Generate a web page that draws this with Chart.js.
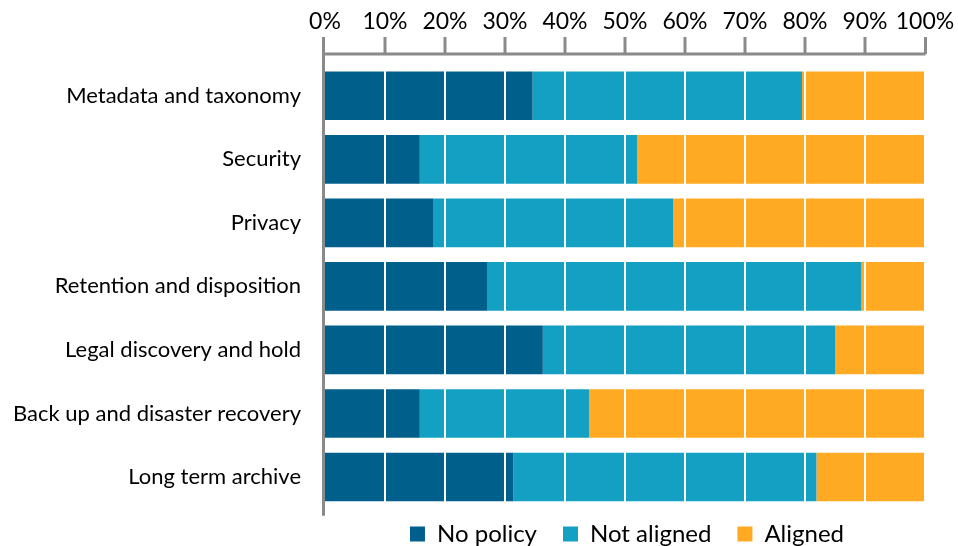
<!DOCTYPE html>
<html>
<head>
<meta charset="utf-8">
<title>Policy alignment</title>
<script src="https://cdn.jsdelivr.net/npm/chart.js@4.4.1/dist/chart.umd.min.js"></script>
<style>
  html, body { margin: 0; padding: 0; background: #fff; }
  #wrap { width: 958px; height: 546px; position: relative; }
</style>
</head>
<body>
<div id="wrap"><canvas id="policy-chart"></canvas></div>
<script>
document.addEventListener('DOMContentLoaded', () => {

///////////////////////Data//////////////////////////
const categories = [
  'Metadata and taxonomy',
  'Security',
  'Privacy',
  'Retention and disposition',
  'Legal discovery and hold',
  'Back up and disaster recovery',
  'Long term archive'
];
const noPolicy   = [34.6, 15.8, 18.0, 27.0, 36.3, 15.8, 31.4];
const notAligned = [44.9, 36.2, 40.0, 62.4, 48.7, 28.2, 50.5];
const aligned    = [20.5, 48.0, 42.0, 10.6, 15.0, 56.0, 18.1];
const xTicks = [0, 10, 20, 30, 40, 50, 60, 70, 80, 90, 100];

const axisGray = '#8a8a8a';
const fontName = 'Lato';
const legendGap = 26;

//////////////////////////Axis + white grid plugin////////////////////////
// axis line sits a little above the plot area, grid lines go over the bars
const axisPlugin = {
  id: 'axisPlugin',
  beforeLayout(chart) {
    // keep the legend strip short even with wide item spacing
    const lg = chart.legend;
    if (lg && !lg._fitWrapped) {
      const fit = lg.fit;
      lg.fit = function () { fit.call(this); this.height = 34; };
      lg._fitWrapped = true;
    }
  },
  afterLayout(chart) {
    // legend sits under the plot, not the whole canvas
    const lg = chart.legend;
    lg.left += 148;
    lg.right += 148;
    lg.top = 534 - 12 - legendGap;
    lg.bottom = 546;
  },
  afterDatasetsDraw(chart) {
    const ctx = chart.ctx;
    const x = chart.scales.x;
    const area = chart.chartArea;
    const axisY = area.top - 10;
    ctx.save();
    // white grid over bars
    ctx.strokeStyle = '#ffffff';
    ctx.lineWidth = 2;
    xTicks.forEach(t => {
      if (t === 0) return;
      const px = Math.round(x.getPixelForValue(t));
      ctx.beginPath();
      ctx.moveTo(px, area.top);
      ctx.lineTo(px, area.bottom);
      ctx.stroke();
    });
    // top axis + tick marks
    ctx.strokeStyle = axisGray;
    ctx.lineWidth = 3;
    const x0 = x.getPixelForValue(0) - 1.5;
    const x1 = x.getPixelForValue(100) + 0.5;
    ctx.beginPath();
    ctx.moveTo(x0, axisY);
    ctx.lineTo(x1, axisY);
    ctx.stroke();
    xTicks.forEach(t => {
      let px = x.getPixelForValue(t);
      if (t === 0) px = x0;
      if (t === 100) px = x1;
      ctx.beginPath();
      ctx.moveTo(px, axisY);
      ctx.lineTo(px, axisY - 17);
      ctx.stroke();
    });
    // left axis
    ctx.beginPath();
    ctx.moveTo(x0, axisY - 1.5);
    ctx.lineTo(x0, area.bottom + 7);
    ctx.stroke();
    ctx.restore();
  }
};

//////////////////////////Chart////////////////////////
const barOpts = { categoryPercentage: 49 / 64, barPercentage: 1, borderWidth: 0 };

new Chart(document.getElementById('policy-chart'), {
  type: 'bar',
  data: {
    labels: categories,
    datasets: [
      Object.assign({ label: 'No policy', data: noPolicy, backgroundColor: '#015f8c' }, barOpts),
      Object.assign({ label: 'Not aligned', data: notAligned, backgroundColor: '#14a0c3' }, barOpts),
      Object.assign({ label: 'Aligned', data: aligned, backgroundColor: '#ffaa22' }, barOpts)
    ]
  },
  options: {
    indexAxis: 'y',
    responsive: true,
    maintainAspectRatio: false,
    animation: false,
    layout: { padding: { left: 0, right: 0, top: 0, bottom: -4 } },
    scales: {
      x: {
        position: 'top',
        stacked: true,
        min: 0,
        max: 100,
        afterFit: s => { s.height = 64; s.paddingLeft = 0; s.paddingRight = 33; },
        afterBuildTicks: s => { s.ticks = xTicks.map(v => ({ value: v })); },
        grid: { display: false, drawTicks: false },
        border: { display: false },
        ticks: {
          padding: 29,
          maxRotation: 0,
          autoSkip: false,
          color: '#000',
          font: { family: fontName, size: 23 },
          callback: v => v + '%'
        }
      },
      y: {
        stacked: true,
        afterFit: s => { s.width = 325; },
        grid: { display: false, drawTicks: false },
        border: { display: false },
        ticks: {
          padding: 24,
          color: '#000',
          font: { family: fontName, size: 22 }
        }
      }
    },
    plugins: {
      legend: {
        position: 'bottom',
        labels: {
          boxWidth: 15,
          boxHeight: 15,
          padding: legendGap,
          color: '#000',
          font: { family: fontName, size: 24, lineHeight: 1 }
        }
      },
      tooltip: { enabled: false }
    }
  },
  plugins: [axisPlugin]
});

//End of wrap
});
</script>
</body>
</html>
